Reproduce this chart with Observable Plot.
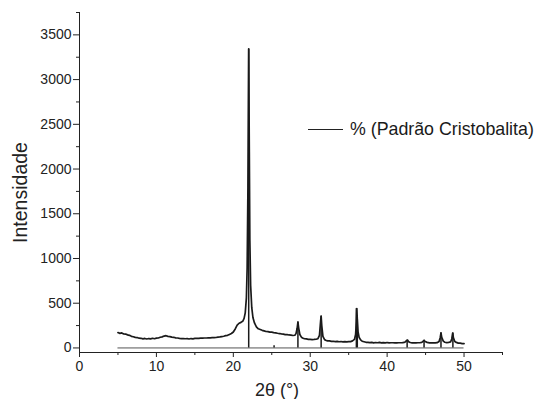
<!DOCTYPE html>
<html><head><meta charset="utf-8">
<script src="https://cdn.jsdelivr.net/npm/d3@7"></script>
<script src="https://cdn.jsdelivr.net/npm/@observablehq/plot@0.6"></script>
<style>
body{margin:0;background:#fff;}
#wrap{position:relative;width:534px;height:399px;font-family:"Liberation Sans",Arial,sans-serif;}
#legend{position:absolute;left:308px;top:118px;height:22px;font-size:17.8px;display:flex;align-items:center;color:#1a1a1a;white-space:nowrap}
#legend span.l{display:inline-block;width:35px;height:0;border-top:1px solid #222;margin-right:7px}
</style></head><body><div id="wrap"><div id="legend"><span class="l"></span>% (Padrão Cristobalita)</div></div>
<script>
// Measured XRD pattern (2θ in degrees, intensity in counts)
const theta = [
5.00,5.25,5.50,5.75,6.00,6.25,6.50,6.75,7.00,7.25,7.50,7.75,8.00,8.25,8.50,8.75,9.00,9.25,9.50,9.75,
10.00,10.25,10.50,10.75,11.00,11.25,11.50,11.75,12.00,12.25,12.50,12.75,13.00,13.25,13.50,13.75,14.00,14.25,14.50,14.75,
15.00,15.25,15.50,15.75,16.00,16.25,16.50,16.75,17.00,17.25,17.50,17.75,18.00,18.25,18.50,18.75,19.00,19.25,19.50,19.75,
20.00,20.25,20.50,20.75,21.00,21.25,21.40,21.55,21.70,21.80,21.90,22.00,22.08,22.15,22.25,22.40,22.55,22.75,23.00,23.25,
23.50,23.75,24.00,24.25,24.50,24.75,25.00,25.25,25.50,25.75,26.00,26.25,26.50,26.75,27.00,27.25,27.50,27.75,28.00,28.15,
28.30,28.40,28.50,28.65,28.85,29.00,29.25,29.50,29.75,30.00,30.25,30.50,30.75,31.00,31.20,31.35,31.42,31.50,31.65,31.85,
32.00,32.25,32.50,32.75,33.00,33.25,33.50,33.75,34.00,34.25,34.50,34.75,35.00,35.25,35.50,35.75,35.90,36.00,36.06,36.12,
36.22,36.35,36.55,36.75,37.00,37.25,37.50,37.75,38.00,38.25,38.50,38.75,39.00,39.25,39.50,39.75,40.00,40.25,40.50,40.75,
41.00,41.25,41.50,41.75,42.00,42.25,42.40,42.55,42.65,42.80,43.00,43.25,43.50,43.75,44.00,44.25,44.50,44.65,44.80,44.95,
45.20,45.50,45.75,46.00,46.25,46.50,46.75,46.90,47.00,47.10,47.30,47.50,47.75,48.00,48.25,48.40,48.52,48.62,48.80,49.00,
49.25,49.50,49.75,50.00
];
const intensity = [
172,163,168,156,155,146,141,130,125,118,116,109,108,102,106,100,105,101,108,103,
110,111,119,124,133,137,129,127,121,119,113,111,107,105,105,103,104,100,105,102,
106,107,107,109,109,111,111,113,113,115,115,117,120,123,127,131,137,141,151,161,
178,212,255,276,286,301,330,392,560,900,1800,3345,2200,1200,700,450,340,280,236,214,
206,197,191,184,183,177,176,171,169,164,161,157,155,149,148,145,143,139,142,160,
220,290,222,150,121,111,103,101,96,96,94,95,97,103,140,300,355,250,130,95,
86,79,79,74,75,71,74,69,72,68,71,67,71,71,79,95,150,300,440,320,
180,120,90,75,69,63,63,59,62,57,61,58,62,57,60,56,61,57,58,58,
57,57,58,58,59,62,70,84,88,70,61,57,57,57,58,58,62,72,86,72,
62,56,56,56,57,59,72,115,168,118,76,64,59,62,67,100,166,112,72,62,
54,53,49,48
];
// Cristobalite reference pattern (stick positions and heights)
const stdTheta = [22.0, 25.3, 28.4, 31.42, 36.0, 36.12, 42.6, 44.8, 47.0, 48.55];
const stdIntensity = [3340, 25, 290, 355, 440, 320, 86, 72, 166, 166];
// Axis domains, ticks and titles
const xDomain = [0, 55];
const yDomain = [-51, 3750];
const xMajor = [0, 10, 20, 30, 40, 50];
const xMinor = [5, 15, 25, 35, 45, 55];
const yMajor = [0, 500, 1000, 1500, 2000, 2500, 3000, 3500];
const yMinor = [250, 750, 1250, 1750, 2250, 2750, 3250, 3750];
const xTitle = ["2θ (°)"];
const yTitle = ["Intensidade"];

const data = theta.map((t, i) => ({t, v: intensity[i]}));
const sticks = stdTheta.map((t, i) => ({t, v: stdIntensity[i]}));
const range = d3.extent(theta);

const chart = Plot.plot({
  width: 534, height: 399,
  marginLeft: 79, marginRight: 32, marginTop: 12, marginBottom: 47,
  x: {domain: xDomain},
  y: {domain: yDomain},
  style: {fontFamily: '"Liberation Sans", Arial, sans-serif', fontSize: "14px", color: "#222", background: "white", overflow: "visible"},
  marks: [
    Plot.axisX({ticks: xMajor, tickSize: 5, tickPadding: 4, label: null, tickFormat: d3.format("d")}),
    Plot.axisX({ticks: xMinor, tickSize: 3, tickFormat: () => "", label: null}),
    Plot.axisY({ticks: yMajor, tickSize: 6, tickPadding: 2, label: null, tickFormat: d3.format("d")}),
    Plot.axisY({ticks: yMinor, tickSize: 3, tickFormat: () => "", label: null}),
    Plot.text(xTitle, {frameAnchor: "bottom", textAnchor: "middle", lineAnchor: "middle", dy: 38, dx: -14, fontSize: 18, fill: "#222"}),
    Plot.text(yTitle, {frameAnchor: "left", textAnchor: "middle", lineAnchor: "middle", rotate: -90, dx: -59, dy: 10, fontSize: 19.5, fill: "#222"}),
    Plot.ruleY([yDomain[0]], {stroke: "#222", strokeWidth: 1}),
    Plot.ruleX([xDomain[0]], {stroke: "#222", strokeWidth: 1}),
    Plot.ruleY([0], {x1: range[0], x2: range[1], stroke: "#555", strokeWidth: 1}),
    Plot.ruleX(sticks, {x: "t", y1: 0, y2: "v", stroke: "#1a1a1a", strokeWidth: 1.5}),
    Plot.line(data, {x: "t", y: "v", stroke: "#1a1a1a", strokeWidth: 1.7})
  ]
});
document.getElementById("wrap").prepend(chart);
</script></body></html>
